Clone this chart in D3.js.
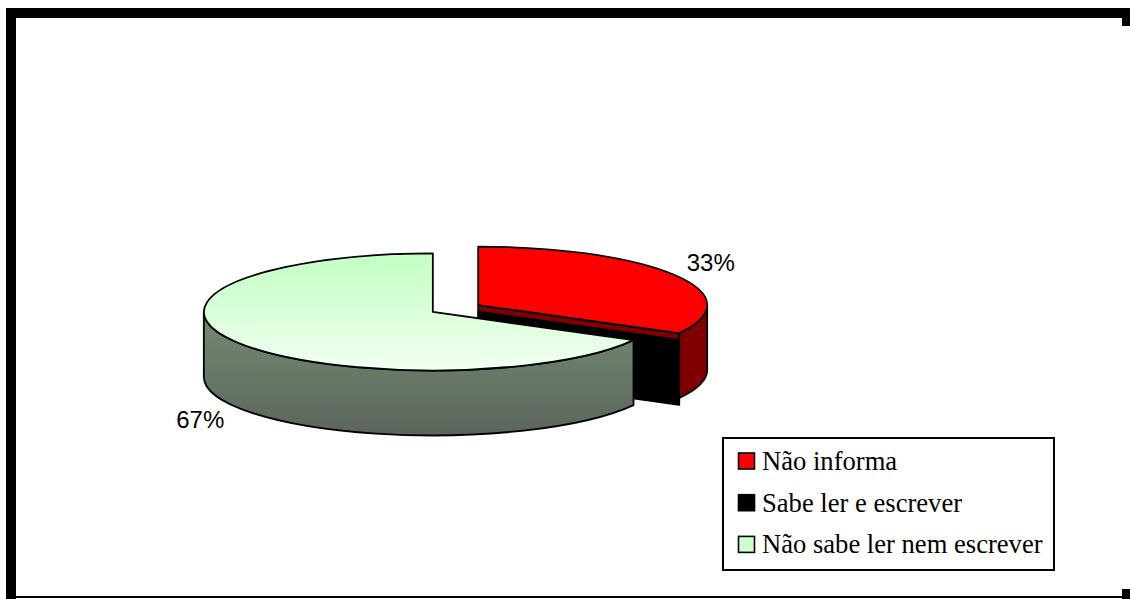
<!DOCTYPE html>
<html>
<head>
<meta charset="utf-8">
<script src="https://cdn.jsdelivr.net/npm/d3@7"></script>
<style>
    body { margin: 0; background: #fff; }
    svg { display: block; }
</style>
</head>
<body>
<script>
    // data
    var categories = ['Não informa', 'Sabe ler e escrever', 'Não sabe ler nem escrever'];
    var values = [33, 0, 67];
    var topColors = ['#ff0000', '#000000', 'url(#greenTop)'];
    var sideColors = ['#800000', '#000000', 'url(#greenSide)'];
    var swatchColors = ['#ff0000', '#000000', '#ccffcc'];

    var stage = { width: 1130, height: 599 };
    var pieGeo = { cx: 455.5, cy: 308.5, rx: 229, ry: 58.5, depth: 65, explode: 0.115 };

    var svg = d3.select('body')
        .append('svg')
        .attr('width', stage.width)
        .attr('height', stage.height)
        .attr('xmlns', 'http://www.w3.org/2000/svg');

    var defs = svg.append('defs');
    var gTop = defs.append('linearGradient').attr('id', 'greenTop')
        .attr('x1', 0).attr('y1', 0).attr('x2', 0).attr('y2', 1);
    gTop.append('stop').attr('offset', 0).attr('stop-color', '#c2ffc2');
    gTop.append('stop').attr('offset', 1).attr('stop-color', '#f2fff2');
    var gSide = defs.append('linearGradient').attr('id', 'greenSide')
        .attr('x1', 0).attr('y1', 0).attr('x2', 0).attr('y2', 1);
    gSide.append('stop').attr('offset', 0).attr('stop-color', '#738a73');
    gSide.append('stop').attr('offset', 1).attr('stop-color', '#5b665b');

    // frame
    var frame = svg.append('g').attr('class', 'frame').attr('fill', '#000');
    frame.append('rect').attr('x', 6).attr('y', 8).attr('width', 1124).attr('height', 10);
    frame.append('rect').attr('x', 6).attr('y', 8).attr('width', 10).attr('height', 591);
    frame.append('rect').attr('x', 1122).attr('y', 8).attr('width', 8).attr('height', 18);
    frame.append('rect').attr('x', 16).attr('y', 596).attr('width', 1106).attr('height', 2);
    frame.append('rect').attr('x', 1122).attr('y', 589).attr('width', 8).attr('height', 10);

    var pie = d3.pie().sort(null).value(function(d) { return d; });
    var arcs = pie(values);

    var pt = function(c, a, dy) {
        return [c[0] + pieGeo.rx * Math.sin(a), c[1] - pieGeo.ry * Math.cos(a) + (dy || 0)];
    };
    var rxy = pieGeo.rx + ' ' + pieGeo.ry;

    var slices = arcs.map(function(d, i) {
        var mid = (d.startAngle + d.endAngle) / 2;
        var c = [pieGeo.cx + pieGeo.explode * pieGeo.rx * Math.sin(mid),
                 pieGeo.cy - pieGeo.explode * pieGeo.ry * Math.cos(mid)];
        return { d: d, i: i, mid: mid, c: c };
    });

    var facePath = function(c, a) {
        var p = pt(c, a);
        return 'M' + c + 'L' + p + 'L' + pt(c, a, pieGeo.depth) +
            'L' + [c[0], c[1] + pieGeo.depth] + 'Z';
    };

    var pieG = svg.append('g').attr('class', 'pie3d')
        .attr('stroke', '#000').attr('stroke-width', 1.8).attr('stroke-linejoin', 'round');

    // back slices first
    slices.slice().sort(function(a, b) { return a.c[1] - b.c[1]; }).forEach(function(s) {
        var d = s.d, g = pieG.append('g');
        var s0 = Math.max(d.startAngle, Math.PI / 2);
        var s1 = Math.min(d.endAngle, Math.PI * 1.5);
        if (s1 > s0) {
            g.append('path')
                .attr('d', 'M' + pt(s.c, s0) + 'A' + rxy + ' 0 ' + (s1 - s0 > Math.PI ? 1 : 0) + ' 1 ' + pt(s.c, s1) +
                    'L' + pt(s.c, s1, pieGeo.depth) +
                    'A' + rxy + ' 0 ' + (s1 - s0 > Math.PI ? 1 : 0) + ' 0 ' + pt(s.c, s0, pieGeo.depth) + 'Z')
                .attr('fill', sideColors[s.i]);
        }
        if (Math.sin(d.startAngle) < -1e-6) {
            g.append('path').attr('d', facePath(s.c, d.startAngle)).attr('fill', sideColors[s.i]);
        }
        if (Math.sin(d.endAngle) > 1e-6) {
            g.append('path').attr('d', facePath(s.c, d.endAngle)).attr('fill', sideColors[s.i]);
        }
        if (d.endAngle - d.startAngle > 1e-6) {
            g.append('path')
                .attr('d', 'M' + s.c + 'L' + pt(s.c, d.startAngle) +
                    'A' + rxy + ' 0 ' + (d.endAngle - d.startAngle > Math.PI ? 1 : 0) + ' 1 ' + pt(s.c, d.endAngle) + 'Z')
                .attr('fill', topColors[s.i]);
        }
    });

    // percentage labels
    var total = d3.sum(values);
    var fmt = d3.format('.0%');
    svg.append('g').attr('class', 'labels')
        .selectAll('text').data(slices.filter(function(s) { return s.d.value > 0; })).enter()
        .append('text')
        .attr('x', function(s) { return s.c[0] + 1.18 * pieGeo.rx * Math.sin(s.mid); })
        .attr('y', function(s) {
            return s.c[1] - 1.42 * pieGeo.ry * Math.cos(s.mid) + (Math.cos(s.mid) < 0 ? pieGeo.depth : 0);
        })
        .attr('text-anchor', 'middle')
        .attr('dominant-baseline', 'central')
        .attr('font-family', '"Liberation Sans", Arial, sans-serif')
        .attr('font-size', 24)
        .text(function(s) { return fmt(s.d.value / total); });

    // legend
    var legend = svg.append('g').attr('class', 'legend');
    legend.append('rect')
        .attr('x', 723).attr('y', 438).attr('width', 331).attr('height', 132)
        .attr('fill', '#fff').attr('stroke', '#000').attr('stroke-width', 2);
    var rowY = d3.scalePoint().domain(categories).range([470, 553.4]);
    var item = legend.selectAll('g.item').data(categories).enter()
        .append('g').attr('class', 'item');
    item.append('rect')
        .attr('x', 738.5)
        .attr('y', function(d) { return rowY(d) - 17; })
        .attr('width', 16).attr('height', 16)
        .attr('fill', function(d, i) { return swatchColors[i]; })
        .attr('stroke', '#000').attr('stroke-width', 1.6);
    item.append('text')
        .attr('x', 762)
        .attr('y', function(d) { return rowY(d); })
        .attr('font-family', '"Liberation Serif", "Times New Roman", serif')
        .attr('font-size', 26.6)
        .text(function(d) { return d; });
</script>
</body>
</html>
